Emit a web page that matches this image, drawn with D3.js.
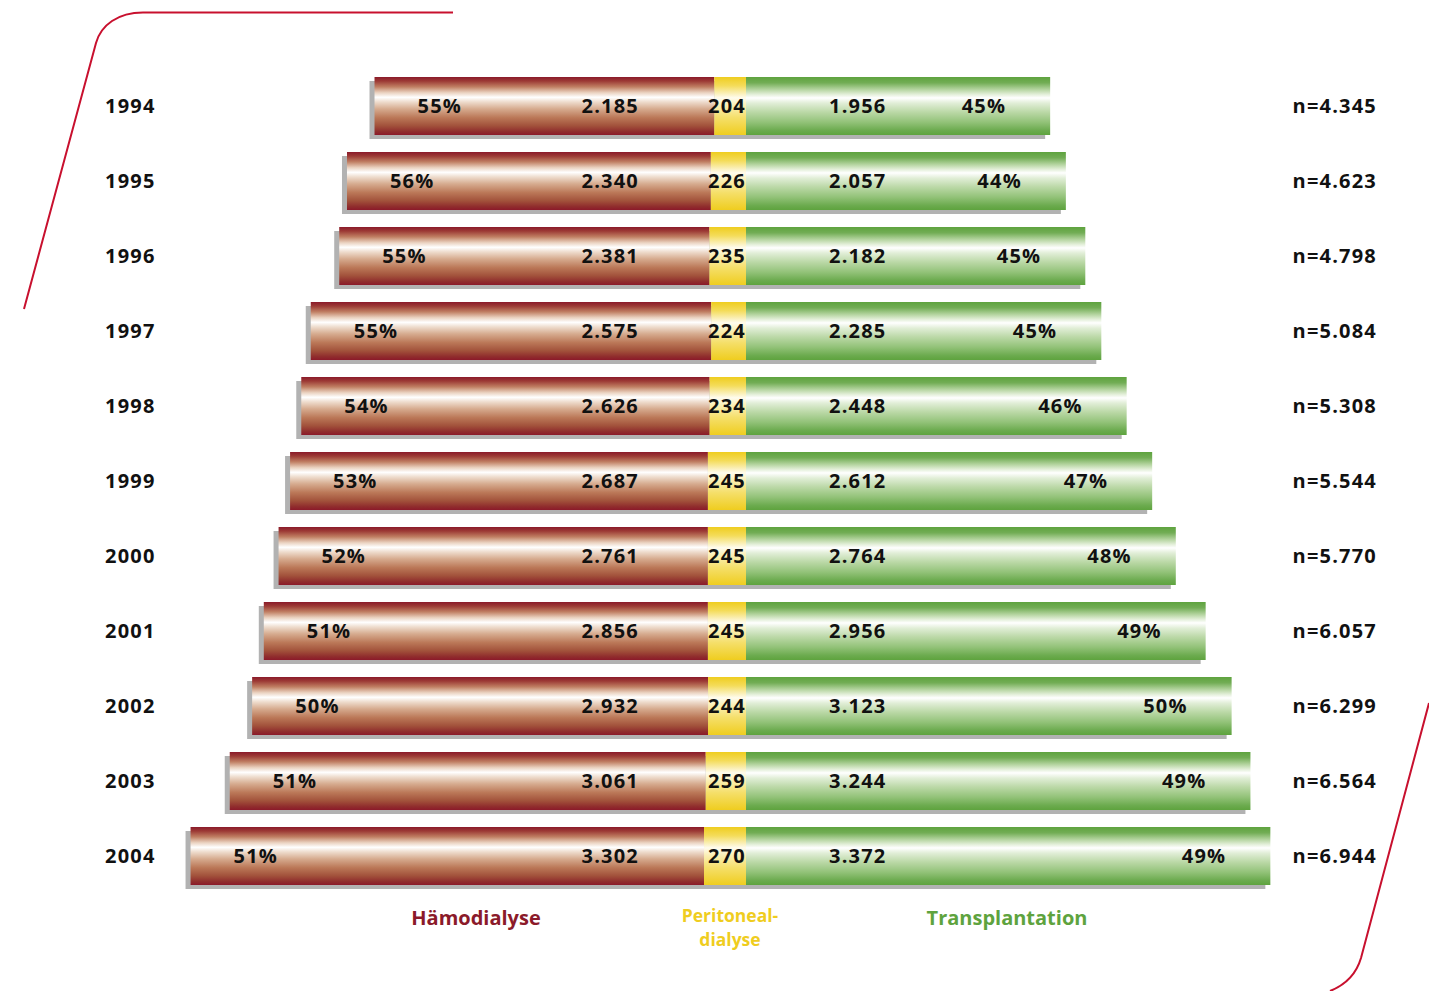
<!DOCTYPE html>
<html>
<head>
<meta charset="utf-8">
<script src="https://cdn.jsdelivr.net/npm/d3@7"></script>
<style>
  html, body { margin: 0; padding: 0; background: #fff; }
  svg { display: block; }
  text { font-family: "Open Sans", "Noto Sans", sans-serif; font-weight: 700; }
</style>
</head>
<body>
<script>
// ---- data ----
const years = ["1994","1995","1996","1997","1998","1999","2000","2001","2002","2003","2004"];
const haemodialyse = [2185, 2340, 2381, 2575, 2626, 2687, 2761, 2856, 2932, 3061, 3302];
const peritonealdialyse = [204, 226, 235, 224, 234, 245, 245, 245, 244, 259, 270];
const transplantation = [1956, 2057, 2182, 2285, 2448, 2612, 2764, 2956, 3123, 3244, 3372];
const dialysePct = ["55%", "56%", "55%", "55%", "54%", "53%", "52%", "51%", "50%", "51%", "51%"];
const transplantPct = ["45%", "44%", "45%", "45%", "46%", "47%", "48%", "49%", "50%", "49%", "49%"];
const totals = ["n=4.345", "n=4.623", "n=4.798", "n=5.084", "n=5.308", "n=5.544", "n=5.770", "n=6.057", "n=6.299", "n=6.564", "n=6.944"];
const legendLabels = ["Hämodialyse", ["Peritoneal-", "dialyse"], "Transplantation"];

const fmt = v => d3.format(",")(v).replace(/,/g, ".");

const W = 1429, H = 991;
const svg = d3.select("body").append("svg").attr("width", W).attr("height", H);

// scales
const x = d3.scaleLinear().domain([-3600, 3400]).range([746 - 3600 * 0.1555, 746 + 3400 * 0.1555]);
const y = d3.scalePoint().domain(years).range([106, 856]);
const barH = 58;

// gradients
const defs = svg.append("defs");
function grad(id, stops) {
  const g = defs.append("linearGradient").attr("id", id).attr("x1", 0).attr("y1", 0).attr("x2", 0).attr("y2", 1);
  stops.forEach(([o, c]) => g.append("stop").attr("offset", o).attr("stop-color", c));
}
grad("gHD", [[0, "#8b1a2a"], [0.07, "#9c3a35"], [0.17, "#c07f63"], [0.27, "#ead2c0"], [0.35, "#ffffff"], [0.43, "#eedccd"], [0.55, "#d6ab8f"], [0.7, "#bb7858"], [0.84, "#a2523b"], [0.94, "#902d2d"], [1, "#8b1a2a"]]);
grad("gPD", [[0, "#efcd1f"], [0.15, "#f4dc5a"], [0.28, "#faefb6"], [0.36, "#fffcee"], [0.48, "#fbf0b8"], [0.7, "#f5df6a"], [1, "#efcd1f"]]);
grad("gTX", [[0, "#5ea33e"], [0.1, "#72ad55"], [0.22, "#b7d6a3"], [0.3, "#e3efd9"], [0.36, "#ffffff"], [0.45, "#e1eed7"], [0.6, "#bcd9a8"], [0.78, "#92c278"], [0.92, "#6cab4f"], [1, "#5ea33e"]]);

// decorative red lines
svg.append("path")
  .attr("d", "M453,12.5 L143,12.5 C118,12.5 101,25 96,43 L24,309")
  .attr("fill", "none").attr("stroke", "#c8102e").attr("stroke-width", 2);
svg.append("path")
  .attr("d", "M1429,703 L1361,958 C1356,975 1345,985 1330,991")
  .attr("fill", "none").attr("stroke", "#c8102e").attr("stroke-width", 2);

const rows = years.map((yr, i) => ({
  yr, i, hd: haemodialyse[i], pd: peritonealdialyse[i], tx: transplantation[i]
}));

const g = svg.append("g");
const row = g.selectAll("g.row").data(rows).enter().append("g").attr("class", "row");

// shadow
row.append("rect")
  .attr("x", d => x(-(d.hd + d.pd)) - 5)
  .attr("y", d => y(d.yr) - barH / 2 + 4)
  .attr("width", d => x(d.tx) - x(-(d.hd + d.pd)))
  .attr("height", barH)
  .attr("fill", "#b2b2b2");

// HD
row.append("rect")
  .attr("x", d => x(-(d.hd + d.pd)))
  .attr("y", d => y(d.yr) - barH / 2)
  .attr("width", d => x(-d.pd) - x(-(d.hd + d.pd)))
  .attr("height", barH)
  .attr("fill", "url(#gHD)");
// PD
row.append("rect")
  .attr("x", d => x(-d.pd))
  .attr("y", d => y(d.yr) - barH / 2)
  .attr("width", d => x(0) - x(-d.pd))
  .attr("height", barH)
  .attr("fill", "url(#gPD)");
// TX
row.append("rect")
  .attr("x", x(0))
  .attr("y", d => y(d.yr) - barH / 2)
  .attr("width", d => x(d.tx) - x(0))
  .attr("height", barH)
  .attr("fill", "url(#gTX)");

const fs = 20;
const ls = "1.2px";
const ty = d => y(d.yr) + 7;
function lbl(sel) {
  return sel.append("text").attr("y", ty).attr("font-size", fs).attr("letter-spacing", ls).attr("fill", "#111");
}

// year labels
lbl(row).attr("x", 105).text(d => d.yr);
// n labels
lbl(row).attr("x", 1377).attr("text-anchor", "end").text(d => totals[d.i]);
// dialyse percent
lbl(row).attr("x", d => x(-(d.hd + d.pd)) + 43).text(d => dialysePct[d.i]);
// HD value
lbl(row).attr("x", 639).attr("text-anchor", "end").text(d => fmt(d.hd));
// PD value
lbl(row).attr("x", 746).attr("text-anchor", "end").text(d => fmt(d.pd));
// TX value
lbl(row).attr("x", 829).text(d => fmt(d.tx));
// TX percent
lbl(row).attr("x", d => x(d.tx) - 44).attr("text-anchor", "end").text(d => transplantPct[d.i]);

// legend
const leg = svg.append("g");
leg.append("text").attr("x", 476).attr("y", 925).attr("text-anchor", "middle").attr("font-size", 20).attr("fill", "#8b1a2a").text(legendLabels[0]);
leg.append("text").attr("x", 730).attr("y", 922).attr("text-anchor", "middle").attr("font-size", 17.5).attr("fill", "#efcd1f").text(legendLabels[1][0]);
leg.append("text").attr("x", 730).attr("y", 946).attr("text-anchor", "middle").attr("font-size", 17.5).attr("fill", "#efcd1f").text(legendLabels[1][1]);
leg.append("text").attr("x", 1007).attr("y", 925).attr("text-anchor", "middle").attr("font-size", 20).attr("fill", "#5ea33e").text(legendLabels[2]);
</script>
</body>
</html>
